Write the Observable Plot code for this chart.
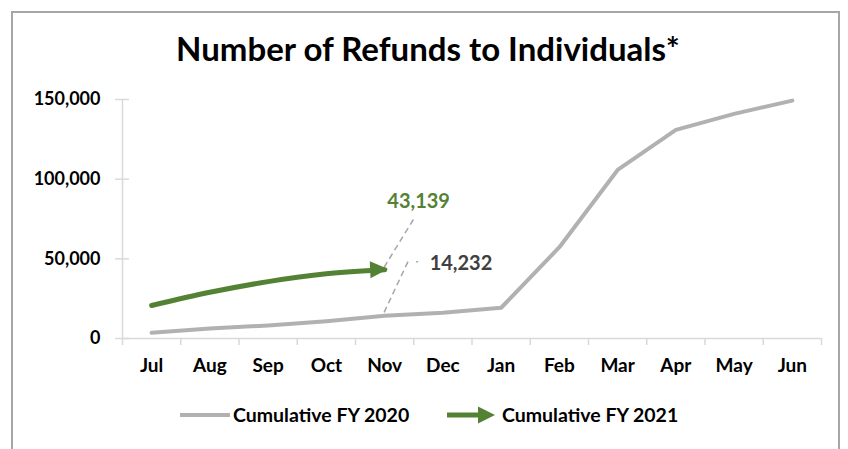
<!DOCTYPE html>
<html><head><meta charset="utf-8">
<script src="https://cdn.jsdelivr.net/npm/d3@7"></script>
<script src="https://cdn.jsdelivr.net/npm/@observablehq/plot@0.6"></script>
<style>
body{margin:0;background:#fff;font-family:Lato,"Noto Sans",sans-serif;width:848px;height:449px;overflow:hidden;}
#frame{position:absolute;left:11px;top:11px;width:825px;height:460px;border:2px solid #a6a6a6;border-bottom:none;}
#title{position:absolute;left:0;top:29px;width:856px;text-align:center;font-weight:700;font-size:33px;color:#000;line-height:1.2;}
#chart{position:absolute;left:0;top:80px;}
#legend{position:absolute;top:403px;left:0;width:848px;height:24px;font-weight:700;font-size:19.5px;color:#000;}
#legend span{position:absolute;top:0;line-height:24px;white-space:nowrap;}
#legend svg{position:absolute;top:0;}
</style></head>
<body>
<div id="frame"></div>
<div id="title">Number of Refunds to Individuals*</div>
<div id="chart"></div>
<div id="legend"></div>
<script>
const months = ["Jul","Aug","Sep","Oct","Nov","Dec","Jan","Feb","Mar","Apr","May","Jun"];
const seriesNames = ["Cumulative FY 2020","Cumulative FY 2021"];
const fy2020 = [3600, 6300, 8200, 10900, 14232, 16100, 19300, 57300, 105800, 130900, 141000, 149300];
const fy2021 = [20700, 29000, 35700, 40600, 43139];
const yTicks = [0, 50000, 100000, 150000];
const grayColor = "#b3b0b0", greenColor = "#548235", axisColor = "#d9d9d9";

const rows2020 = fy2020.map((v, i) => ({i, v}));
const rows2021 = fy2021.map((v, i) => ({i, v}));
const last = fy2021.length - 1;
const fmt = d3.format(",");

const arrowHead = (index, {x, y}) => {
  const x1 = x(last), y1 = y(fy2021[last]), x0 = x(last - 1), y0 = y(fy2021[last - 1]);
  const a = Math.atan2(y1 - y0, x1 - x0) * 180 / Math.PI * 0.6;
  return d3.create("svg:path")
    .attr("d", "M4,0L-14,-8.5L-14,8.5Z")
    .attr("fill", greenColor)
    .attr("transform", `translate(${x1},${y1}) rotate(${a})`)
    .node();
};

const leaders = (index, {x, y}) => {
  const g = d3.create("svg:g").attr("fill", "none").attr("stroke", "#a6a6a6")
    .attr("stroke-width", 1.5).attr("stroke-dasharray", "6,4");
  const x0 = x(last), yA = y(fy2021[last]), yB = y(fy2020[last]);
  g.append("path").attr("d", `M${x0},${yA - 2}L${x0 + 30},${yA - 51}`);
  g.append("path").attr("d", `M${x0},${yB - 3}L${x0 + 24},${yB - 54}`);
  g.append("path").attr("stroke-dasharray", null).attr("d", `M${x0 + 32},${yB - 53.5}L${x0 + 34},${yB - 53.5}`);
  return g.node();
};

const chart = Plot.plot({
  width: 848, height: 300,
  marginLeft: 122, marginRight: 27, marginTop: 19, marginBottom: 42,
  style: {fontFamily: "Lato, 'Noto Sans', sans-serif", fontSize: "18px", fontWeight: "700", color: "#000", background: "transparent", overflow: "visible"},
  x: {domain: [-0.5, months.length - 0.5], ticks: d3.range(months.length), tickFormat: i => months[i], tickSize: 0, tickPadding: 20, label: null, fontSize: 19},
  y: {domain: [0, 150000], ticks: yTicks, tickFormat: fmt, tickSize: 0, tickPadding: 22, label: null},
  marks: [
    Plot.ruleX([-0.5], {y1: 0, y2: 150000, stroke: axisColor, strokeWidth: 1.5}),
    Plot.ruleY(yTicks, {x1: -0.5, x2: -0.5, insetLeft: -7, insetRight: -7, stroke: axisColor, strokeWidth: 1.5}),
    Plot.ruleY([0], {stroke: axisColor, strokeWidth: 1.5}),
    Plot.ruleX(d3.range(months.length + 1).map(i => i - 0.5), {y1: 0, y2: 0, insetBottom: -7, stroke: axisColor, strokeWidth: 1.5}),
    leaders,
    Plot.line(rows2020, {x: "i", y: "v", stroke: grayColor, strokeWidth: 4}),
    Plot.line(rows2021, {x: "i", y: "v", stroke: greenColor, strokeWidth: 5, curve: "monotone-x"}),
    arrowHead,
    Plot.text([rows2021[last]], {x: "i", y: "v", text: d => fmt(d.v), dx: 34, dy: -68, fill: greenColor, fontSize: 20, fontWeight: "bold", textAnchor: "middle"}),
    Plot.text([rows2020[last]], {x: "i", y: "v", text: d => fmt(d.v), dx: 45, dy: -52, fill: "#404040", fontSize: 20, fontWeight: "bold", textAnchor: "start"})
  ]
});
document.getElementById("chart").appendChild(chart);
chart.querySelectorAll('[aria-label="x-axis"] text, [aria-label="x-axis tick label"] text').forEach(t => t.setAttribute("font-size", "19"));

// legend
const legend = d3.select("#legend");
const lg1 = legend.append("svg").style("left", "178px").attr("width", 54).attr("height", 24);
lg1.append("line").attr("x1", 2).attr("x2", 52).attr("y1", 12).attr("y2", 12).attr("stroke", grayColor).attr("stroke-width", 4);
legend.append("span").style("left", "233px").text(seriesNames[0]);
const lg2 = legend.append("svg").style("left", "445px").attr("width", 54).attr("height", 24);
lg2.append("line").attr("x1", 2).attr("x2", 36).attr("y1", 12).attr("y2", 12).attr("stroke", greenColor).attr("stroke-width", 5);
lg2.append("path").attr("d", "M50,12L33,3.5L33,20.5Z").attr("fill", greenColor);
legend.append("span").style("left", "502px").text(seriesNames[1]);
</script>
</body></html>
